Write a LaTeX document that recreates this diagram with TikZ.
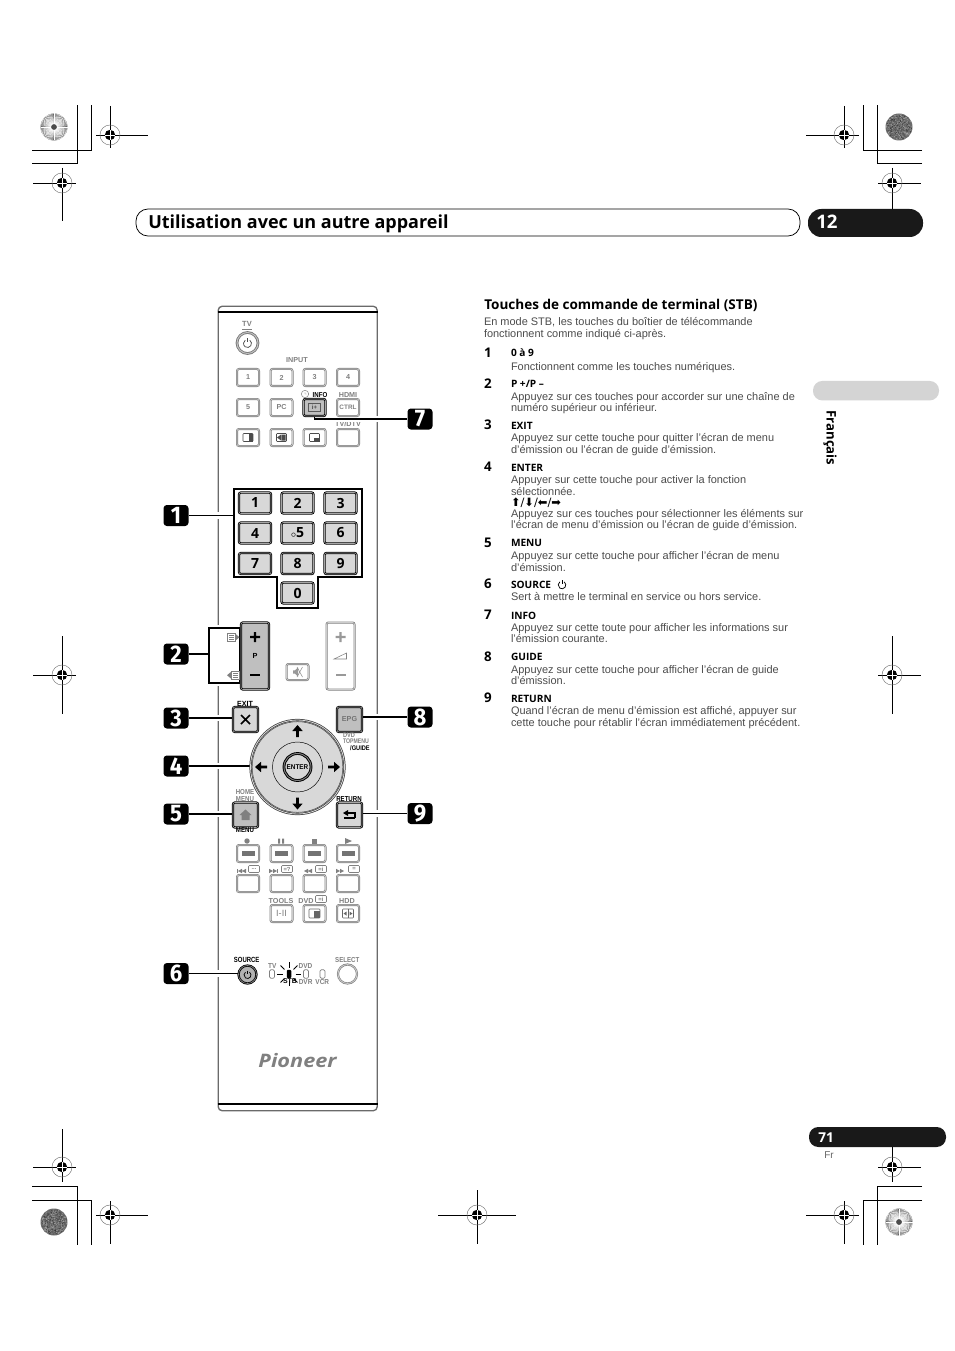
\documentclass[tikz,border=0pt]{standalone}
\usepackage{fontspec}
\setmainfont{Liberation Sans}
\newfontfamily\headfont{Open Sans}
\newfontfamily\calfont{Fira Sans}
\newfontfamily\symfont{DejaVu Sans}
\usetikzlibrary{calc}
\definecolor{bodytxt}{HTML}{4C4C4C}
\definecolor{lblgray}{HTML}{808080}
\definecolor{btnfill}{HTML}{D8D8D8}
\definecolor{pillgray}{HTML}{D4D4D4}
\definecolor{bodyline}{HTML}{6A6A6A}
\pgfdeclarelayer{bg}\pgfdeclarelayer{mid}\pgfsetlayers{bg,mid,main}
\newcommand\fs[1]{\fontsize{#1}{#1}\selectfont}
\newcounter{lbc}
\newcommand\lbl[4][]{\stepcounter{lbc}\node[lblbase,#1] (lb\arabic{lbc}) at (#2,#3) {#4};}
\newcommand\numbtn[4]{\node[btnbase,btndark,minimum width=32*.75pt,minimum height=21*.75pt,font=\headfont\bfseries\fs{10.5}] (#1) at (#2,#3) {#4};}
\newcommand\litebtn[5][]{\node[btnbase,minimum width=22*.75pt,minimum height=17*.75pt,font=\bfseries\fs{5.4},text=lblgray,#1] (#2) at (#3,#4) {#5};}
\newcommand\callout[4]{\node[calloutbox] (#1) at (#2,#3) {\scalebox{.92}[1]{#4}};}
\newcommand\regmark[6]{%
 \draw[regline] (#3,#2)--(#4,#2) (#1,#5)--(#1,#6);
 \draw[black!55,line width=.35pt] (#1,#2) circle (10);
 \fill[black] (#1,#2) circle (5.2);
 \draw[white,line width=.45pt] (#1-5.2,#2)--(#1+5.2,#2) (#1,#2-5.2)--(#1,#2+5.2);}
\newcommand\burst[2]{%
 \fill[black!68] (#1,#2) circle (13.5);
 \foreach \a in {0,5,...,355}{\draw[white,line width=.36pt] (#1,#2)++(\a:3)--++(\a:10.5);}
 \fill[black!70] (#1,#2) circle (2.2);}
\newcommand\dense[2]{%
 \fill[black!58] (#1,#2) circle (13.5);
 \pgfmathsetseed{#1}
 \foreach \i in {1,...,260}{\pgfmathsetmacro\rr{12.6*sqrt(rnd)}\pgfmathsetmacro\tt{360*rnd}\fill[black!35] (#1,#2)++(\tt:\rr) circle (.45);}
 \foreach \i in {1,...,200}{\pgfmathsetmacro\rr{12.6*sqrt(rnd)}\pgfmathsetmacro\tt{360*rnd}\fill[black!80] (#1,#2)++(\tt:\rr) circle (.4);}}
\newcommand\pwr[4]{\begin{scope}[shift={(#1,#2)}]
 \draw[#4,line width=.55pt] (-55:#3) arc[start angle=-55,end angle=235,radius=#3];
 \draw[#4,line width=.55pt] (0,-#3*1.25)--(0,-#3*.25);\end{scope}}
\newcommand\fatarrow[3]{\fill[black,shift={(#1,#2)},rotate=#3] (-6,-1.3)--(0,-1.3)--(0,-5.2)--(6,0)--(0,5.2)--(0,1.3)--(-6,1.3)--cycle;}
\newcommand\bubble[3]{\draw[lblgray,line width=.4pt,rounded corners=.8pt,fill=white] (#1-5.5,#2-3.5) rectangle (#1+5.5,#2+3.5);\node[inner sep=0,text=lblgray,font=\bfseries\fs{4.4}] (bub#1) at (#1,#2) {#3};}
\newcommand\skipico[3]{\begin{scope}[shift={(#1,#2)},xscale=#3]\fill[lblgray] (-5,-2.2)--(-1,0)--(-5,2.2)--cycle (-1,-2.2)--(3,0)--(-1,2.2)--cycle;\fill[lblgray] (3,-2.2) rectangle (4,2.2);\end{scope}}
\newcommand\seekico[3]{\begin{scope}[shift={(#1,#2)},xscale=#3]\fill[lblgray] (-5,-2.2)--(-1,0)--(-5,2.2)--cycle (-1,-2.2)--(3,0)--(-1,2.2)--cycle;\end{scope}}
\tikzset{
 x=.75pt,y=-.75pt,
 regline/.style={black,line width=.6pt},
 lblbase/.style={inner sep=0,outer sep=0},
 lbg/.style={text=lblgray,font=\bfseries\fs{5.4}},
 lbk/.style={text=black,font=\bfseries\fs{5.4}},
 btnbase/.style={draw=black!50,line width=.5pt,double=black!20,double distance=.5pt,fill=white,rounded corners=1.5pt,inner sep=0,outer sep=0},
 btndark/.style={draw=black,line width=.62pt,double=black!35,double distance=.45pt,fill=btnfill},
 calloutbox/.style={fill=black,rounded corners=2.5pt,minimum width=25*.75pt,minimum height=21*.75pt,inner sep=0,text=white,font=\calfont\bfseries\fs{18}},
 conn/.style={black,line width=1.3pt,preaction={draw=white,line width=5.2pt}},
 bodytext/.style={anchor=base west,inner sep=0,outer sep=0,text=bodytxt,font=\fs{8.22}},
 itemhead/.style={anchor=base west,inner sep=0,outer sep=0,text=black,font=\headfont\bfseries\fs{7.6}},
 itemnum/.style={anchor=base west,inner sep=0,outer sep=0,text=black,font=\headfont\bfseries\fs{10}},
}
\begin{document}
\begin{tikzpicture}
\useasboundingbox (0,0) rectangle (954,1351);
\begin{pgfonlayer}{bg}
\fill[white] (0,0) rectangle (954,1351);
% remote body
\node[draw=bodyline,line width=1pt,rounded corners=3pt,fill=white,minimum width=159*.75pt,minimum height=804.5*.75pt,inner sep=0] (remote) at (297.7,708.5) {};
\draw[black,line width=1.5pt] (remote.west|-0,312)--(remote.east|-0,312);
\draw[black,line width=1.5pt] (remote.west|-0,1104)--(remote.east|-0,1104);
\lbl[lbg]{348}{423.8}{TV/DTV}
\end{pgfonlayer}

% crop and registration marks
\draw[regline] (32,163)-|(77,105) (32,150)-|(91,105);
\draw[regline] (922,150)-|(863,105) (922,163)-|(877,105);
\draw[regline] (32,1186)-|(77,1245) (32,1200)-|(91,1245);
\draw[regline] (922,1186)-|(877,1245) (922,1200)-|(863,1245);
\regmark{110}{135}{96}{148}{106}{148}
\regmark{62}{183}{33}{76}{168}{221}
\regmark{844}{135}{806}{859}{106}{148}
\regmark{892}{183}{878}{921}{168}{209}
\regmark{62}{675}{33}{76}{636}{714}
\regmark{892}{675}{878}{921}{636}{714}
\regmark{62}{1167}{33}{76}{1129}{1182}
\regmark{892}{1167}{878}{921}{1147}{1182}
\regmark{110}{1215}{96}{148}{1201}{1244}
\regmark{844}{1215}{806}{859}{1201}{1244}
\regmark{477}{1215}{438}{516}{1190}{1244}
\burst{54}{127}
\dense{899}{127}
\dense{54}{1222}
\burst{899}{1222}

% header
\node[draw=black,line width=.55pt,rounded corners=9pt,minimum width=664*.75pt,minimum height=27*.75pt,inner sep=0] (hdrpill) at (468,222.5) {};
\node[anchor=base west,inner sep=0,font=\headfont\bfseries\fs{13.5}] (hdrtxt) at (148,229) {Utilisation avec un autre appareil};
\node[fill=black!90,rounded corners=10pt,minimum width=115*.75pt,minimum height=28*.75pt,inner sep=0] (chap) at (865.5,223) {};
\node[anchor=base west,inner sep=0,text=white,font=\headfont\bfseries\fs{14}] (chapnum) at (816,229) {12};
\node[fill=pillgray,rounded corners=7pt,minimum width=126*.75pt,minimum height=19.5*.75pt,inner sep=0] (sidepill) at (876,390.7) {};
\node[rotate=-90,inner sep=0,font=\headfont\bfseries\fs{9.9}] (lang) at (830,438) {Français};
\node[fill=black!90,rounded corners=7pt,minimum width=137*.75pt,minimum height=20*.75pt,inner sep=0] (pagepill) at (877.5,1137) {};
\node[anchor=base west,inner sep=0,text=white,font=\headfont\bfseries\fs{10.2}] (pagenum) at (818,1142) {71};
\node[anchor=base west,inner sep=0,text=black!60,font=\fs{7.5}] (pagefr) at (824,1158) {Fr};

% remote: top section
\node[circle,draw=black!55,line width=.6pt,double=black!25,double distance=.8pt,fill=white,minimum size=21*.75pt,inner sep=0] (tvpwr) at (247.5,343) {};
\pwr{247.5}{343.5}{4}{black!70}
\lbl[lbg,font=\bfseries\fs{5.6}]{247}{324}{TV}
\draw[lblgray,line width=.45pt] (242,329.5)--(252,329.5);
\lbl[lbg]{297}{360}{INPUT}
\litebtn{i1}{248}{377.5}{1}
\litebtn{i2}{281.5}{377.5}{2}
\litebtn{i3}{314.5}{377.5}{3}
\litebtn{i4}{348}{377.5}{4}
\litebtn{i5}{248}{407.5}{5}
\litebtn{ipc}{281.5}{407.5}{PC}
\node[btnbase,btndark,minimum width=22*.75pt,minimum height=17*.75pt,fill=black!25] (info) at (314.5,407.5) {};
\draw[black!65,line width=.4pt] (308.5,403.5) rectangle (320.5,411.5);
\lbl[text=black!70,font=\bfseries\fs{4.5}]{314.5}{407.5}{i+}
\litebtn[font=\bfseries\fs{4.8}]{ictrl}{348}{407.5}{CTRL}
\lbl[lbk,xscale=.85]{320}{395}{INFO}
\lbl[lbg]{348}{395}{HDMI}
\draw[lblgray,line width=.35pt,fill=white] (305,394) circle (3.7) (305,392)--(305,394)--(306.5,394);
\litebtn{s1}{248}{437.5}{}
\litebtn{s2}{281.5}{437.5}{}
\litebtn{s3}{314.5}{437.5}{}
\litebtn{s4}{348}{437.5}{}
\draw[black!70,line width=.4pt,rounded corners=.6pt] (243,433.5) rectangle (253,441.5);
\fill[black!70] (248.5,433.5) rectangle (253,441.5);
\draw[black!70,line width=.4pt,rounded corners=.6pt] (276.5,433.5) rectangle (286.5,441.5);
\fill[black!70] (277,437.5)--(281,434.5)--(281,440.5)--cycle (281.5,434.5) rectangle (285.5,440.5);
\draw[black!70,line width=.4pt,rounded corners=.6pt] (309.5,433.5) rectangle (319.5,441.5);
\fill[black!70] (313.5,437.5) rectangle (319.5,441.5);

% numeric block
\draw[black,line width=1.3pt] (234,489)--(362,489)--(362,577)--(318,577)--(318,608)--(277,608)--(277,577)--(234,577)--cycle;
\node[minimum width=128*.75pt,minimum height=88*.75pt,inner sep=0,outer sep=0] (numbox) at (298,533) {};
\numbtn{n1}{255}{503}{1}
\numbtn{n2}{297.5}{503}{2}
\numbtn{n3}{340.5}{503}{3}
\numbtn{n4}{255}{533}{4}
\numbtn{n5}{297.5}{533}{{\fs{7}$\circ$}5}
\numbtn{n6}{340.5}{533}{6}
\numbtn{n7}{255}{563.5}{7}
\numbtn{n8}{297.5}{563.5}{8}
\numbtn{n9}{340.5}{563.5}{9}
\numbtn{n0}{297.5}{593}{0}

% P+/- and volume
\begin{pgfonlayer}{mid}
\node[draw=black,line width=1.3pt,fill=white,minimum width=31*.75pt,minimum height=55*.75pt,inner sep=0,preaction={draw=white,line width=5.2pt}] (brk) at (224.5,655.5) {};
\end{pgfonlayer}
\node[btnbase,btndark,fill=black!25,minimum width=28*.75pt,minimum height=67*.75pt] (pbtn) at (255,656) {};
\fill[black] (250,635.8) rectangle (260,638.2) (253.8,632) rectangle (256.2,642);
\lbl[lbk,font=\bfseries\fs{5.5}]{255}{655.5}{P}
\fill[black] (250,673.8) rectangle (260,676.2);
\draw[lblgray,line width=.4pt] (227.5,633.5) rectangle (235,641);
\draw[lblgray,line width=.4pt] (229,635.5)--(233.5,635.5) (229,637.2)--(233.5,637.2) (229,639)--(233.5,639);
\fill[lblgray] (235,633.5)--(239.5,637.2)--(235,641)--cycle;
\draw[lblgray,line width=.4pt] (231.5,671.5) rectangle (239,679);
\draw[lblgray,line width=.4pt] (233,673.5)--(237.5,673.5) (233,675.2)--(237.5,675.2) (233,677)--(237.5,677);
\fill[lblgray] (231.5,671.5)--(227,675.2)--(231.5,679)--cycle;
\node[btnbase,minimum width=28*.75pt,minimum height=67*.75pt] (volbtn) at (340.5,656) {};
\fill[black!40] (335.5,635.8) rectangle (345.5,638.2) (339.3,632) rectangle (341.7,642);
\draw[lblgray,line width=.4pt] (334,659)--(346.5,659)--(346.5,653)--cycle;
\fill[black!40] (335.5,673.8) rectangle (345.5,676.2);
\node[btnbase,minimum width=22*.75pt,minimum height=16*.75pt] (mute) at (297.5,672) {};
\fill[black!40] (293,670.3)--(295,670.3)--(298,667.5)--(298,676.5)--(295,673.7)--(293,673.7)--cycle;
\draw[black!45,line width=.4pt] (297,667)--(302.5,677) (302.5,667)--(297,677);

% navigation
\node[btnbase,btndark,minimum width=25*.75pt,minimum height=25*.75pt] (exitbtn) at (245.5,719.5) {};
\draw[black,line width=1.1pt] (241,715)--(250,724) (250,715)--(241,724);
\lbl[lbk,xscale=.95,font=\bfseries\fs{5.6}]{245}{703.5}{EXIT}
\node[btnbase,btndark,fill=black!25,minimum width=25*.75pt,minimum height=25*.75pt,text=black!55,font=\bfseries\fs{5.4}] (epg) at (349.5,719.5) {EPG};
\lbl[lbg,xscale=.85,font=\bfseries\fs{5}]{349}{735.5}{DVD}
\lbl[lbg,xscale=.78,font=\bfseries\fs{5}]{356}{741.5}{TOPMENU}
\lbl[lbk,xscale=.85,font=\bfseries\fs{5}]{360}{748.5}{/GUIDE}
\node[circle,draw=black!75,line width=.55pt,double=black!15,double distance=.6pt,fill=btnfill,minimum size=94*.75pt,inner sep=0,outer sep=0] (wheel) at (297.5,767) {};
\draw[black!70,line width=.4pt] (297.5,767) circle (45.3);
\draw[black,line width=.35pt] (297.5,767) circle (25);
\fatarrow{297.5}{731}{90}
\fatarrow{297.5}{803.5}{-90}
\fatarrow{261}{767}{180}
\fatarrow{334}{767}{0}
\node[circle,draw=black,line width=.7pt,double=black!50,double distance=.7pt,fill=btnfill,minimum size=27*.75pt,inner sep=0,font=\bfseries\fs{5.2},text=black] (enterbtn) at (297.5,767) {\scalebox{.92}[1]{ENTER}};
\node[btnbase,btndark,fill=black!25,minimum width=25*.75pt,minimum height=25*.75pt] (home) at (245.5,815) {};
\fill[black!50] (245.5,809.5)--(251.5,815)--(249.5,815)--(249.5,820)--(241.5,820)--(241.5,815)--(239.5,815)--cycle;
\lbl[lbg,xscale=.85]{245}{792.5}{HOME}
\lbl[lbg,xscale=.85]{245}{799}{MENU}
\lbl[lbk,xscale=.85]{245}{830}{MENU}
\node[btnbase,btndark,minimum width=25*.75pt,minimum height=25*.75pt] (ret) at (349.5,815) {};
\draw[black,line width=1pt] (344,818)--(355,818) (355,818)--(355,813)--(347,813);
\fill[black] (343,813)--(348,810)--(348,816)--cycle;
\lbl[lbk,xscale=.85]{349}{799.5}{RETURN}

% transport rows
\foreach \nm/\cx in {a/248,b/281.5,c/314.5,d/348}{
 \node[btnbase,minimum width=22*.75pt,minimum height=17*.75pt] (tr\nm) at (\cx,853.5) {};
 \fill[black!55] (\cx-6.5,851) rectangle (\cx+6.5,856);
 \node[btnbase,minimum width=22*.75pt,minimum height=17*.75pt] (sk\nm) at (\cx,883.5) {};
}
\fill[lblgray] (247,841) circle (2.7);
\fill[lblgray] (278,838.5) rectangle (280.2,843.5) (282,838.5) rectangle (284.2,843.5);
\fill[lblgray] (311.5,838.5) rectangle (316.5,843.5);
\fill[lblgray] (345,838)--(352,841)--(345,844)--cycle;
\skipico{241}{871}{-1}
\skipico{274}{871}{1}
\seekico{307}{871}{-1}
\seekico{341}{871}{1}
\bubble{254}{869}{...}
\bubble{287}{869}{=?}
\bubble{321}{869}{=i}
\bubble{354}{869}{=}
\node[btnbase,minimum width=22*.75pt,minimum height=17*.75pt,text=lblgray,font=\fs{6.8}] (b1) at (281.5,913.5) {I-II};
\node[btnbase,minimum width=22*.75pt,minimum height=17*.75pt] (b2) at (314.5,913.5) {};
\node[btnbase,minimum width=22*.75pt,minimum height=17*.75pt] (b3) at (348,913.5) {};
\draw[black!60,line width=.4pt,rounded corners=.6pt] (309,909) rectangle (320,918);
\fill[black!60] (314,910.5) rectangle (320,918);
\draw[black!60,line width=.4pt,rounded corners=.6pt] (342.5,909) rectangle (353.5,918);
\draw[black!60,line width=.5pt] (348,909)--(348,918);
\fill[black!60] (343.5,913.5)--(346.5,911.5)--(346.5,915.5)--cycle (352.5,913.5)--(349.5,911.5)--(349.5,915.5)--cycle;
\lbl[lbg]{281}{901}{TOOLS}
\lbl[lbg]{306}{901}{DVD}
\bubble{321}{899}{=i}
\lbl[lbg]{347}{901}{HDD}

% source row
\node[circle,draw=black,line width=.6pt,double=black!45,double distance=.5pt,fill=black!30,minimum size=18*.75pt,inner sep=0,outer sep=0] (source) at (247.5,974.5) {};
\pwr{247.5}{975}{3.5}{black}
\lbl[lbk,xscale=.8,font=\bfseries\fs{5.6}]{246.7}{960.3}{SOURCE}
\foreach \a in {0,45,...,315}{\draw[black,line width=.75pt] (289,974)++(\a:6.5)--++(\a:5.5);}
\foreach \lx/\nm in {272/tv,306/dvd,322.5/vcr}{\node[draw=lblgray,line width=.45pt,rounded corners=1pt,fill=white,minimum width=5*.75pt,minimum height=8.5*.75pt,inner sep=0] (led\nm) at (\lx,974) {};}
\node[fill=black,rounded corners=.8pt,minimum width=4.5*.75pt,minimum height=8.5*.75pt,inner sep=0] (ledstb) at (289,974) {};
\lbl[lbg,xscale=.9]{272.3}{965.7}{TV}
\lbl[lbg,xscale=.9]{305.5}{965.7}{DVD}
\lbl[lbg,xscale=.9]{305.6}{981.7}{DVR}
\lbl[lbg,xscale=.9]{322.3}{981.7}{VCR}
\lbl[lbg,xscale=.85]{347.3}{960.3}{SELECT}
\node[inner sep=0,font=\bfseries\fs{5.2}] (stb) at (290,981.5) {STB};
\node[circle,draw=black!50,line width=.5pt,double=black!20,double distance=.6pt,fill=white,minimum size=19*.75pt,inner sep=0] (select) at (347.5,974) {};
\node[inner sep=0,text=black!50,font=\headfont\bfseries\itshape\fs{15.5}] (logo) at (297.5,1061) {\scalebox{1.05}[.9]{Pioneer}};

% callouts
\callout{c1}{176}{515.5}{1}
\callout{c2}{176}{654}{2}
\callout{c3}{176}{718}{3}
\callout{c4}{176}{766}{4}
\callout{c5}{176}{814}{5}
\callout{c6}{176}{973.5}{6}
\callout{c7}{420}{419}{7}
\callout{c8}{420}{717}{8}
\callout{c9}{420}{813.5}{9}
\begin{pgfonlayer}{mid}
\draw[conn] (c1.east)--(c1.east-|numbox.west);
\draw[conn] (c2.east)--(c2.east-|brk.west);
\draw[conn] (c3.east)--(c3.east-|exitbtn.west);
\draw[conn] (c4.east)--(c4.east-|wheel.west);
\draw[conn] (c5.east)--(c5.east-|home.west);
\draw[conn] (c6.east)--(c6.east-|source.west);
\draw[conn] (info.south)|-(c7.west);
\draw[conn] (c8.west)--(c8.west-|epg.east);
\draw[conn] (c9.west)--(c9.west-|ret.east);
\end{pgfonlayer}

% right column
\node[anchor=base west,inner sep=0,font=\headfont\bfseries\fs{10.15}] (title) at (484,310) {Touches de commande de terminal (STB)};
\node[bodytext] (intro1) at (484,326) {En mode STB, les touches du boîtier de télécommande};
\node[bodytext] (intro2) at (484,338) {fonctionnent comme indiqué ci-après.};
\node[itemnum] (n1t) at (484,358) {1};
\node[itemhead] (h1) at (511,357) {0 à 9};
\node[bodytext] (l1a) at (511,371) {Fonctionnent comme les touches numériques.};
\node[itemnum] (n2t) at (484,388) {2};
\node[itemhead] (h2) at (511,387.5) {P +/P –};
\node[bodytext] (l2a) at (511,400) {Appuyez sur ces touches pour accorder sur une chaîne de};
\node[bodytext] (l2b) at (511,411.5) {numéro supérieur ou inférieur.};
\node[itemnum] (n3t) at (484,429.5) {3};
\node[itemhead] (h3) at (511,429) {EXIT};
\node[bodytext] (l3a) at (511,441.5) {Appuyez sur cette touche pour quitter l’écran de menu};
\node[bodytext] (l3b) at (511,453.5) {d’émission ou l’écran de guide d’émission.};
\node[itemnum] (n4t) at (484,471) {4};
\node[itemhead] (h4) at (511,471) {ENTER};
\node[bodytext] (l4a) at (511,483) {Appuyer sur cette touche pour activer la fonction};
\node[bodytext] (l4b) at (511,495) {sélectionnée.};
\node[bodytext,text=black,font=\symfont\fs{8.6}] (l4c) at (511,506.5) {⬆/⬇/⬅/➡};
\node[bodytext] (l4d) at (511,517) {Appuyez sur ces touches pour sélectionner les éléments sur};
\node[bodytext] (l4e) at (511,528) {l’écran de menu d’émission ou l’écran de guide d’émission.};
\node[itemnum] (n5t) at (484,547) {5};
\node[itemhead] (h5) at (511,546) {MENU};
\node[bodytext] (l5a) at (511,559) {Appuyez sur cette touche pour afficher l’écran de menu};
\node[bodytext] (l5b) at (511,571) {d’émission.};
\node[itemnum] (n6t) at (484,588.5) {6};
\node[itemhead] (h6) at (511,588) {SOURCE};
\pwr{562}{585}{3.8}{black}
\node[bodytext] (l6a) at (511,600) {Sert à mettre le terminal en service ou hors service.};
\node[itemnum] (n7t) at (484,619.5) {7};
\node[itemhead] (h7) at (511,619) {INFO};
\node[bodytext] (l7a) at (511,631) {Appuyez sur cette toute pour afficher les informations sur};
\node[bodytext] (l7b) at (511,642) {l’émission courante.};
\node[itemnum] (n8t) at (484,661) {8};
\node[itemhead] (h8) at (511,660.5) {GUIDE};
\node[bodytext] (l8a) at (511,673) {Appuyez sur cette touche pour afficher l’écran de guide};
\node[bodytext] (l8b) at (511,684) {d’émission.};
\node[itemnum] (n9t) at (484,702.5) {9};
\node[itemhead] (h9) at (511,702) {RETURN};
\node[bodytext] (l9a) at (511,714) {Quand l’écran de menu d’émission est affiché, appuyer sur};
\node[bodytext] (l9b) at (511,726) {cette touche pour rétablir l’écran immédiatement précédent.};
\end{tikzpicture}
\end{document}
